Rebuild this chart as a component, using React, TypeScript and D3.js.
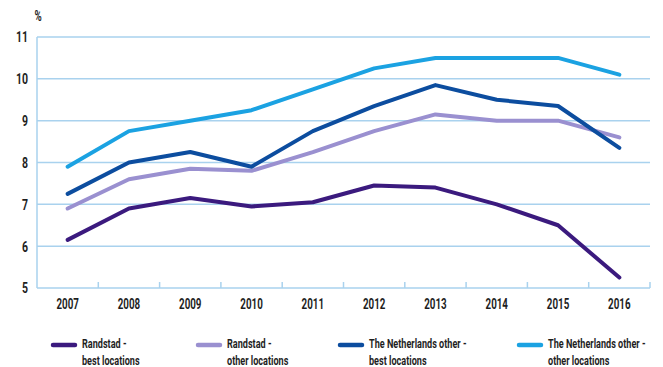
import React from "react";
import * as d3 from "d3";

const years = ["2007", "2008", "2009", "2010", "2011", "2012", "2013", "2014", "2015", "2016"];
const randstadBest = [6.15, 6.9, 7.15, 6.95, 7.05, 7.45, 7.4, 7.0, 6.5, 5.25];
const randstadOther = [6.9, 7.6, 7.85, 7.8, 8.25, 8.75, 9.15, 9.0, 9.0, 8.6];
const nlBest = [7.25, 8.0, 8.25, 7.9, 8.75, 9.35, 9.85, 9.5, 9.35, 8.35];
const nlOther = [7.9, 8.75, 9.0, 9.25, 9.75, 10.25, 10.5, 10.5, 10.5, 10.1];
const yTicks = [5, 6, 7, 8, 9, 10, 11];

const seriesList = [
  { name: ["Randstad -", "best locations"], values: randstadBest, color: "#3b1a7e" },
  { name: ["Randstad -", "other locations"], values: randstadOther, color: "#9a90d0" },
  { name: ["The Netherlands other -", "best locations"], values: nlBest, color: "#0c4d9f" },
  { name: ["The Netherlands other -", "other locations"], values: nlOther, color: "#1ba2e2" },
];

const legendX = [53, 198, 340, 519];

const SX = 0.7;

function T(props: { x: number; y: number; anchor?: string; size: number; children: React.ReactNode; dy?: string }) {
  return (
    <g transform={`translate(${props.x},${props.y}) scale(${SX},1)`}>
      <text
        x={0}
        y={0}
        dy={props.dy}
        textAnchor={props.anchor || "start"}
        fontSize={props.size}
        fontWeight={700}
        fill="#1e1e1e"
      >
        {props.children}
      </text>
    </g>
  );
}

export default function App() {
  const W = 663, H = 367;
  const left = 37, right = 650, top = 37, bottom = 288;
  const x = d3.scaleBand<string>().domain(years).range([left, right]).padding(0);
  const y = d3.scaleLinear().domain([5, 11]).range([bottom, top]);
  const line = d3
    .line<number>()
    .x((_, i) => (x(years[i]) as number) + x.bandwidth() / 2)
    .y((d) => y(d));
  const font = "Roboto, 'DejaVu Sans Condensed', sans-serif";
  const grid = "#a9d2ee";
  return (
    <svg
      width={W}
      height={H}
      style={{ position: "absolute", left: 0, top: 0, background: "#fff" }}
      fontFamily={font}
    >
      {yTicks.slice(1).map((t) => (
        <line key={t} x1={left} x2={right} y1={y(t)} y2={y(t)} stroke={grid} strokeWidth={1.5} />
      ))}
      <line x1={left} x2={left} y1={top} y2={bottom} stroke={grid} strokeWidth={1.5} />
      <line x1={left} x2={right} y1={bottom} y2={bottom} stroke={grid} strokeWidth={1.5} />
      {years.map((yr) => (
        <line
          key={"t" + yr}
          x1={(x(yr) as number) + x.bandwidth()}
          x2={(x(yr) as number) + x.bandwidth()}
          y1={bottom}
          y2={bottom - 6}
          stroke={grid}
          strokeWidth={1.5}
        />
      ))}
      {yTicks.map((t) => (
        <T key={"y" + t} x={28} y={y(t)} dy="0.36em" anchor="end" size={15}>
          {t}
        </T>
      ))}
      <T x={38} y={21} anchor="middle" size={14}>%</T>
      {years.map((yr) => (
        <T key={"x" + yr} x={(x(yr) as number) + x.bandwidth() / 2} y={309} anchor="middle" size={14}>
          {yr}
        </T>
      ))}
      {seriesList.map((s) => (
        <path
          key={s.name.join()}
          d={line(s.values) as string}
          fill="none"
          stroke={s.color}
          strokeWidth={4}
          strokeLinejoin="round"
          strokeLinecap="round"
        />
      ))}
      {seriesList.map((s, i) => (
        <g key={"l" + i}>
          <line x1={legendX[i]} x2={legendX[i] + 22} y1={345} y2={345} stroke={s.color} strokeWidth={4.5} strokeLinecap="round" />
          <T x={legendX[i] + 29} y={348} size={13}>{s.name[0]}</T>
          <T x={legendX[i] + 29} y={365} size={13}>{s.name[1]}</T>
        </g>
      ))}
    </svg>
  );
}
